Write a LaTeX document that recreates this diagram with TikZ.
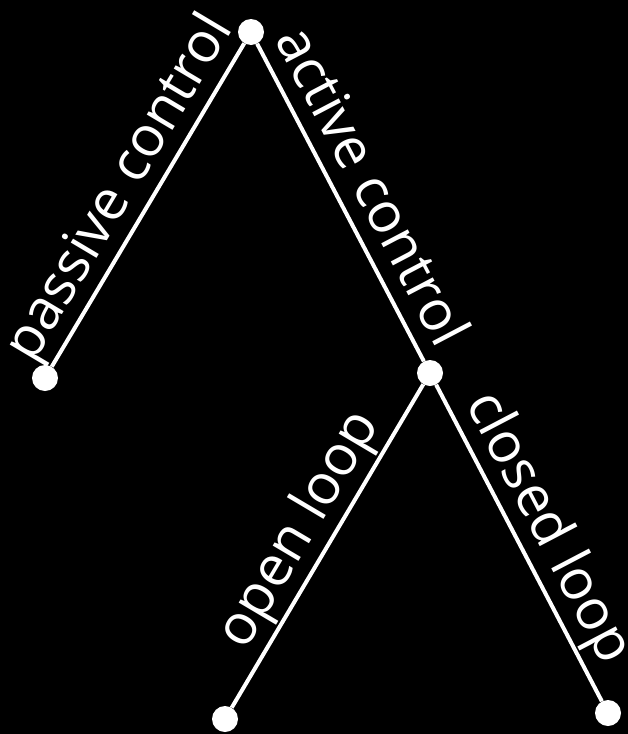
\documentclass[tikz,border=0pt]{standalone}
\usepackage{fontspec}
\setmainfont{Open Sans}
\begin{document}
\begin{tikzpicture}[x=1pt,y=-1pt,
  dot/.style={circle,fill=white,draw=none,minimum size=26pt,inner sep=0pt},
  edge/.style={draw=white,line width=4pt},
  lbl/.style={sloped,above,text=white,inner sep=2pt,font=\fontsize{56}{60}\selectfont,text depth=13pt,text height=41pt}]
\fill[black] (0,0) rectangle (628,734);
\useasboundingbox (0,0) rectangle (628,734);
\node[dot] (top) at (251,32) {};
\node[dot] (pas) at (45,378) {};
\node[dot] (act) at (430,373) {};
\node[dot] (open) at (225,719) {};
\node[dot] (closed) at (608,713) {};
\path[edge] (pas) -- node[lbl] {passive control} (top);
\path[edge] (top) -- node[lbl] {active control} (act);
\path[edge] (open) -- node[lbl] {open loop} (act);
\path[edge] (act) -- node[lbl] {closed loop} (closed);
\end{tikzpicture}
\end{document}
